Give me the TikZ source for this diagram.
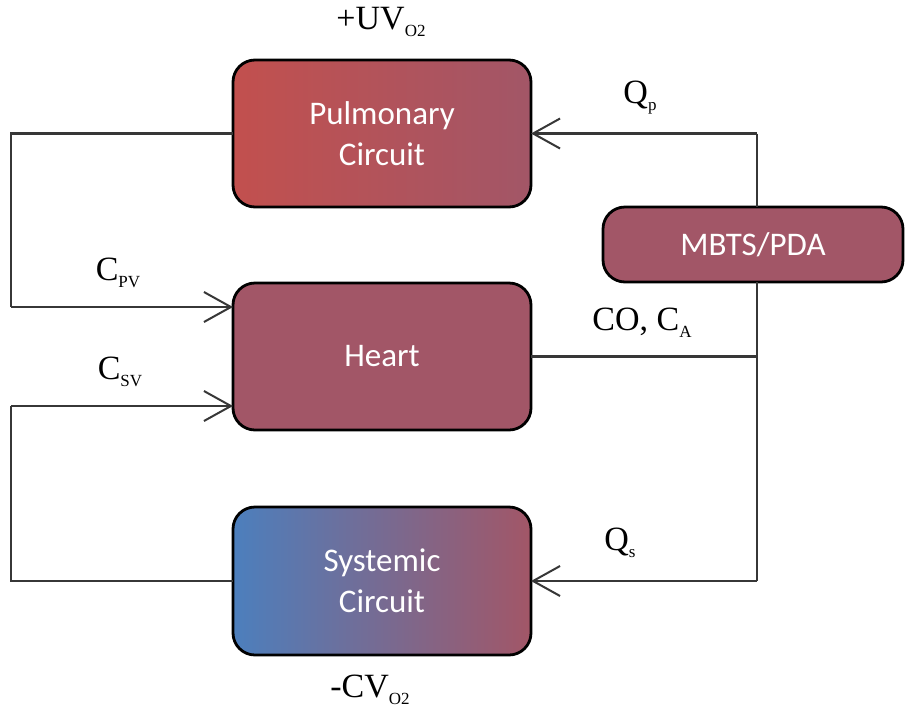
\documentclass[tikz,border=0pt]{standalone}
\usepackage{fontspec}
\setmainfont{Liberation Serif}
\newfontfamily\boxfont{Carlito}
\usetikzlibrary{arrows.meta,calc}
\definecolor{lnc}{RGB}{55,55,55}
\definecolor{redL}{RGB}{194,80,78}
\definecolor{mauve}{RGB}{162,86,103}
\definecolor{blueL}{RGB}{76,127,189}
\begin{document}
\begin{tikzpicture}[x=1pt,y=-1pt,
  block/.style={draw=black,line width=2.8pt,rounded corners=22pt,inner sep=0pt,outer sep=0pt,
    text=white,font=\boxfont\fontsize{33}{41}\selectfont,align=center},
  conn/.style={draw=lnc,line width=2.8pt},
  arr/.style={conn,-{Straight Barb[length=27pt,width=30pt,line width=2pt]}},
  lbl/.style={font=\fontsize{34}{36}\selectfont,inner sep=0pt}]
\useasboundingbox (0,0) rectangle (910,713);
\newcommand{\sbx}[1]{{\fontsize{17}{18}\selectfont #1}}
% boxes
\node[block,minimum width=298pt,minimum height=147pt,left color=redL,right color=mauve] (pul) at (382,133.5) {Pulmonary\\Circuit};
\node[block,minimum width=298pt,minimum height=147pt,fill=mauve] (heart) at (382,356.5) {Heart};
\node[block,minimum width=298pt,minimum height=148pt,left color=blueL,right color=mauve] (sys) at (382,581) {Systemic\\Circuit};
\node[block,minimum width=300pt,minimum height=75pt,fill=mauve] (mbts) at (753,244.5) {MBTS/PDA};
% coordinates
\coordinate (lx) at (11,0);
\coordinate (rx) at (757,0);
\coordinate (hin1) at ([yshift=49.5pt]heart.west);
\coordinate (hin2) at ([yshift=-49.5pt]heart.west);
\coordinate (rt) at (pul.east -| rx);
\coordinate (rb) at (sys.east -| rx);
% left connectors
\draw[conn] (pul.west) -- (pul.west -| lx) -- (hin1 -| lx);
\draw[arr] (hin1 -| lx) -- (hin1);
\draw[conn] (sys.west) -- (sys.west -| lx) -- (hin2 -| lx);
\draw[arr] (hin2 -| lx) -- (hin2);
% right connectors
\draw[conn] (rt) -- (rt |- mbts.north);
\draw[conn] (rb) -- (rb |- mbts.south);
\draw[arr] (rt) -- (pul.east);
\draw[arr] (rb) -- (sys.east);
\draw[conn] (heart.east) -- (heart.east -| rx);
% labels
\node[lbl] (uv) at (381,22) {+UV\raisebox{-7pt}{\sbx{O2}}};
\node[lbl] (qp) at (640,98) {Q\raisebox{-7pt}{\sbx{p}}};
\node[lbl] (cpv) at (118,273) {C\raisebox{-7pt}{\sbx{PV}}};
\node[lbl] (csv) at (120,372) {C\raisebox{-7pt}{\sbx{SV}}};
\node[lbl] (coca) at (642,323) {CO, C\raisebox{-7pt}{\sbx{A}}};
\node[lbl] (qs) at (620,543) {Q\raisebox{-7pt}{\sbx{s}}};
\node[lbl] (cv) at (370,690) {-CV\raisebox{-7pt}{\sbx{O2}}};
\end{tikzpicture}
\end{document}
